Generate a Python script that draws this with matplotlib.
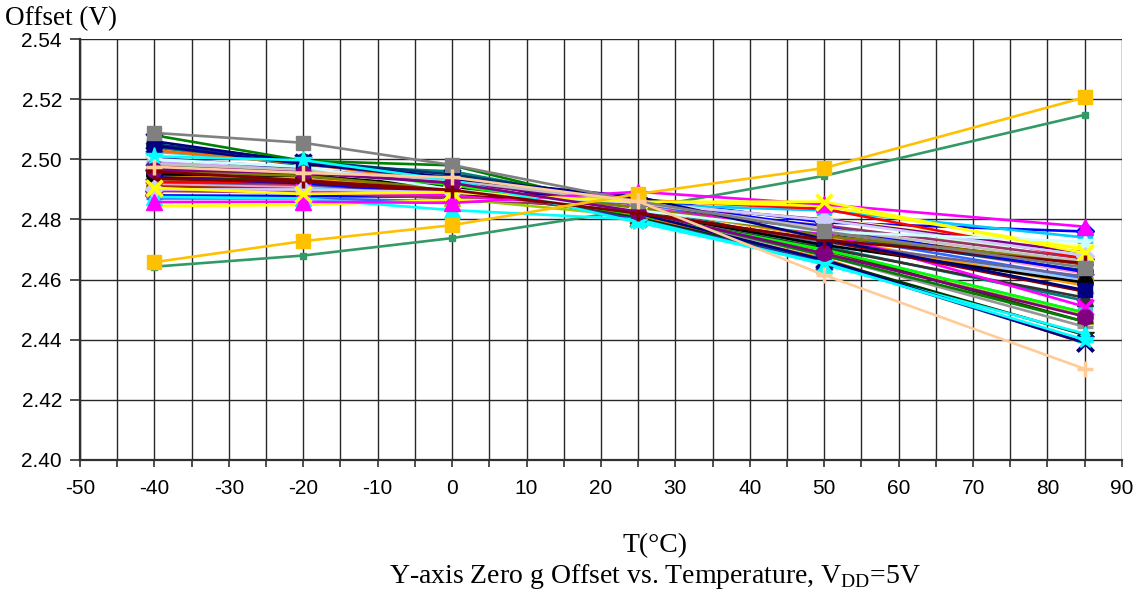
import matplotlib
matplotlib.use("Agg")
import matplotlib.pyplot as plt
from matplotlib.ticker import MultipleLocator, FormatStrFormatter

plt.rcParams['mathtext.fontset'] = 'custom'
plt.rcParams['mathtext.rm'] = 'Liberation Serif'
plt.rcParams['axes.unicode_minus'] = False

temperatures = [-40, -20, 0, 25, 50, 85]

# Offset (V) per device at each temperature (index = device)
offset_m40 = [2.5045, 2.4858, 2.4905, 2.5010, 2.4965, 2.4960, 2.5040, 2.4880, 2.4920, 2.5000,
              2.4930, 2.4890, 2.4950, 2.4915, 2.4990, 2.4975, 2.4870, 2.5025, 2.4935, 2.4658,
              2.4945, 2.5030, 2.4925, 2.4985, 2.5050, 2.4643, 2.4955, 2.4940, 2.4910, 2.4895,
              2.5005, 2.4970, 2.4950, 2.4925, 2.4980, 2.4940, 2.4845, 2.4900, 2.4875, 2.4935,
              2.5080, 2.5060, 2.4960, 2.4975, 2.4985, 2.5088, 2.4900]
offset_m20 = [2.4985, 2.4859, 2.4885, 2.4997, 2.4955, 2.4930, 2.4980, 2.4878, 2.4905, 2.4975,
              2.4920, 2.4890, 2.4940, 2.4910, 2.4965, 2.4955, 2.4870, 2.4990, 2.4925, 2.4728,
              2.4935, 2.4985, 2.4915, 2.4960, 2.4995, 2.4680, 2.4945, 2.4930, 2.4900, 2.4890,
              2.4970, 2.4950, 2.4945, 2.4920, 2.4960, 2.4920, 2.4848, 2.4890, 2.4870, 2.4925,
              2.4995, 2.4990, 2.4945, 2.4960, 2.4965, 2.5055, 2.4900]
offset_0 = [2.4935, 2.4855, 2.4890, 2.4930, 2.4921, 2.4898, 2.4960, 2.4875, 2.4880, 2.4900,
            2.4905, 2.4880, 2.4910, 2.4895, 2.4935, 2.4940, 2.4860, 2.4950, 2.4870, 2.4781,
            2.4900, 2.4925, 2.4885, 2.4920, 2.4950, 2.4738, 2.4905, 2.4890, 2.4875, 2.4870,
            2.4915, 2.4900, 2.4910, 2.4895, 2.4915, 2.4885, 2.4865, 2.4880, 2.4831, 2.4890,
            2.4980, 2.4940, 2.4900, 2.4925, 2.4930, 2.4981, 2.4890]
offset_25 = [2.4875, 2.4892, 2.4859, 2.4790, 2.4826, 2.4820, 2.4845, 2.4870, 2.4850, 2.4830,
             2.4840, 2.4855, 2.4830, 2.4845, 2.4840, 2.4860, 2.4855, 2.4835, 2.4810, 2.4885,
             2.4840, 2.4810, 2.4825, 2.4820, 2.4860, 2.4835, 2.4805, 2.4815, 2.4830, 2.4835,
             2.4800, 2.4815, 2.4825, 2.4865, 2.4815, 2.4860, 2.4860, 2.4840, 2.4800, 2.4825,
             2.4830, 2.4820, 2.4840, 2.4850, 2.4855, 2.4860, 2.4855]
offset_50 = [2.4735, 2.4850, 2.4859, 2.4655, 2.4687, 2.4732, 2.4710, 2.4790, 2.4830, 2.4759,
             2.4770, 2.4800, 2.4720, 2.4760, 2.4740, 2.4615, 2.4750, 2.4700, 2.4690, 2.4971,
             2.4740, 2.4670, 2.4725, 2.4680, 2.4750, 2.4945, 2.4665, 2.4700, 2.4760, 2.4780,
             2.4660, 2.4705, 2.4715, 2.4835, 2.4700, 2.4775, 2.4845, 2.4755, 2.4650, 2.4730,
             2.4680, 2.4665, 2.4745, 2.4800, 2.4770, 2.4760, 2.4798]
offset_85 = [2.4565, 2.4776, 2.4688, 2.4400, 2.4477, 2.4655, 2.4530, 2.4760, 2.4740, 2.4726,
             2.4690, 2.4710, 2.4600, 2.4620, 2.4560, 2.4303, 2.4605, 2.4490, 2.4480, 2.5206,
             2.4580, 2.4388, 2.4610, 2.4443, 2.4630, 2.5148, 2.4416, 2.4460, 2.4650, 2.4670,
             2.4390, 2.4540, 2.4590, 2.4670, 2.4490, 2.4625, 2.4700, 2.4510, 2.4420, 2.4560,
             2.4460, 2.4390, 2.4660, 2.4690, 2.4660, 2.4640, 2.4680]

x_ticks = list(range(-50, 91, 10))
y_ticks = [2.40, 2.42, 2.44, 2.46, 2.48, 2.50, 2.52, 2.54]

# styles (not data)
colors = ['#000080', '#FF00FF', '#FFFF00', '#00FFFF', '#800080', '#800000', '#008080', '#0000FF',
          '#00CCFF', '#CCFFFF', '#CCFFCC', '#FFFF99', '#99CCFF', '#FF99CC', '#CC99FF', '#FFCC99',
          '#3366FF', '#33CCCC', '#99CC00', '#FFC000', '#FF9900', '#FF6600', '#666699', '#969696',
          '#003366', '#339966', '#003300', '#333300', '#993300', '#993366', '#333399', '#333333',
          '#000000', '#FF0000', '#00FF00', '#0000FF', '#FFFF00', '#FF00FF', '#00FFFF', '#800000',
          '#008000', '#000080', '#808000', '#800080', '#C0C0C0', '#808080', '#CCCCFF']
markers = ['s', '^', 'x', '*', 'o', '+', '_', 'D',
           's', '*', 'x', '*', 'o', '+', '_', '+',
           '_', 's', '^', 's', 'x', 'x', '*', '_',
           'o', 's', '*', '+', '_', 'D', 'x', '^',
           'o', 'None', 'None', 'None', 'None', 'x', '^', 'None',
           'None', 'x', 'None', 'None', 'None', 's', 'D']
msizes = {'s': 10, '^': 11, 'x': 11, '*': 13, 'o': 11, '+': 12, '_': 12, 'D': 9}
top_order = [46, 9, 0, 1, 2, 3, 4, 5, 45, 19, 15]  # drawn last, in this order

fig = plt.figure(figsize=(11.39, 5.92), dpi=100)
ax = fig.add_axes([0.0702, 0.223, 0.9148, 0.711])

n = len(offset_m40)
order = [i for i in range(n) if i not in top_order] + top_order
for k, i in enumerate(order):
    vals = [offset_m40[i], offset_m20[i], offset_0[i], offset_25[i], offset_50[i], offset_85[i]]
    m = markers[i]
    ms = msizes.get(m, 0)
    if i == 25:
        ms = 5
    mew = 2.5 if m in ('x', '+', '_') else 1.0
    ax.plot(temperatures, vals, color=colors[i], lw=1.9, marker=m, ms=ms,
            mec=colors[i], mfc=colors[i], mew=mew, zorder=3 + k * 0.01)

ax.set_xlim(-50, 90)
ax.set_ylim(2.40, 2.54)
ax.set_xticks(x_ticks)
ax.xaxis.set_minor_locator(MultipleLocator(5))
ax.set_yticks(y_ticks)
ax.yaxis.set_major_formatter(FormatStrFormatter('%.2f'))
ax.grid(True, which='both', axis='x', color='#282828', lw=1.0, zorder=1)
ax.grid(True, which='major', axis='y', color='#282828', lw=1.0, zorder=1)

for s in ('top', 'right'):
    ax.spines[s].set_visible(False)
for s in ('left', 'bottom'):
    ax.spines[s].set_color('#303030')
    ax.spines[s].set_linewidth(1.6)

ax.tick_params(axis='both', which='major', direction='out', width=1.2,
               color='#303030', labelsize=15)
ax.tick_params(axis='x', which='both', length=5, width=1.2, color='#303030')
ax.tick_params(axis='x', which='major', pad=9)
ax.tick_params(axis='y', which='major', length=7, pad=6)
for lab in ax.get_xticklabels() + ax.get_yticklabels():
    lab.set_fontfamily('Liberation Sans')

fig.text(0.004, 0.957, 'Offset (V)', fontfamily='Liberation Serif', fontsize=19.5,
         ha='left', va='baseline')
fig.text(0.575, 0.068, 'T(°C)', fontfamily='Liberation Serif', fontsize=20,
         ha='center', va='baseline')
fig.text(0.575, 0.016, r'Y-axis Zero g Offset vs. Temperature, V$_{\mathrm{DD}}$=5V',
         fontfamily='Liberation Serif', fontsize=20, ha='center', va='baseline')

fig.savefig('out.png', dpi=100)
